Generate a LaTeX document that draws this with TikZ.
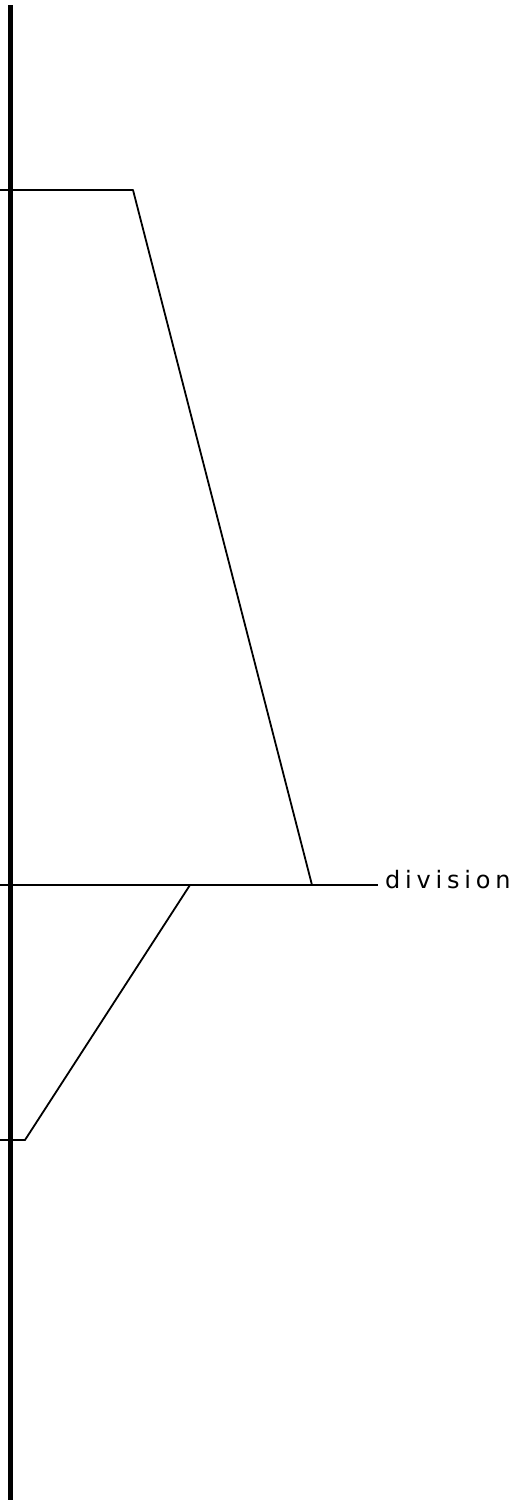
\documentclass[tikz,border=0pt]{standalone}
\usepackage{fontspec}
\newfontfamily\labelfont[LetterSpace=20]{DejaVu Sans}
\begin{document}
\begin{tikzpicture}[x=1pt,y=-1pt,
  thin line/.style={line width=1.8pt,black},
  axis line/.style={line width=5pt,black},
  lbl/.style={font=\labelfont\fontsize{24}{24}\selectfont,inner sep=0pt,anchor=base west}]
\useasboundingbox (0,0) rectangle (518,1502);
% axis
\coordinate (axtop) at (10,5);
\coordinate (axbot) at (10,1500);
\draw[axis line] (axtop) -- (axbot);
% top horizontal + slanted
\coordinate (t0) at (0,190);
\coordinate (t1) at (133,190);
\coordinate (s1) at (312,885);
\draw[thin line,line join=round] (t0) -- (t1) -- (s1);
% division line
\coordinate (h0) at (0,885);
\coordinate (h1) at (378,885);
\node[lbl] (div) at (385,888) {division};
\draw[thin line] (h0) -- (h1);
% lower branch
\coordinate (b0) at (190,885);
\coordinate (b1) at (25,1140);
\coordinate (b2) at (0,1140);
\draw[thin line,line join=round] (b0) -- (b1) -- (b2);
\end{tikzpicture}
\end{document}
